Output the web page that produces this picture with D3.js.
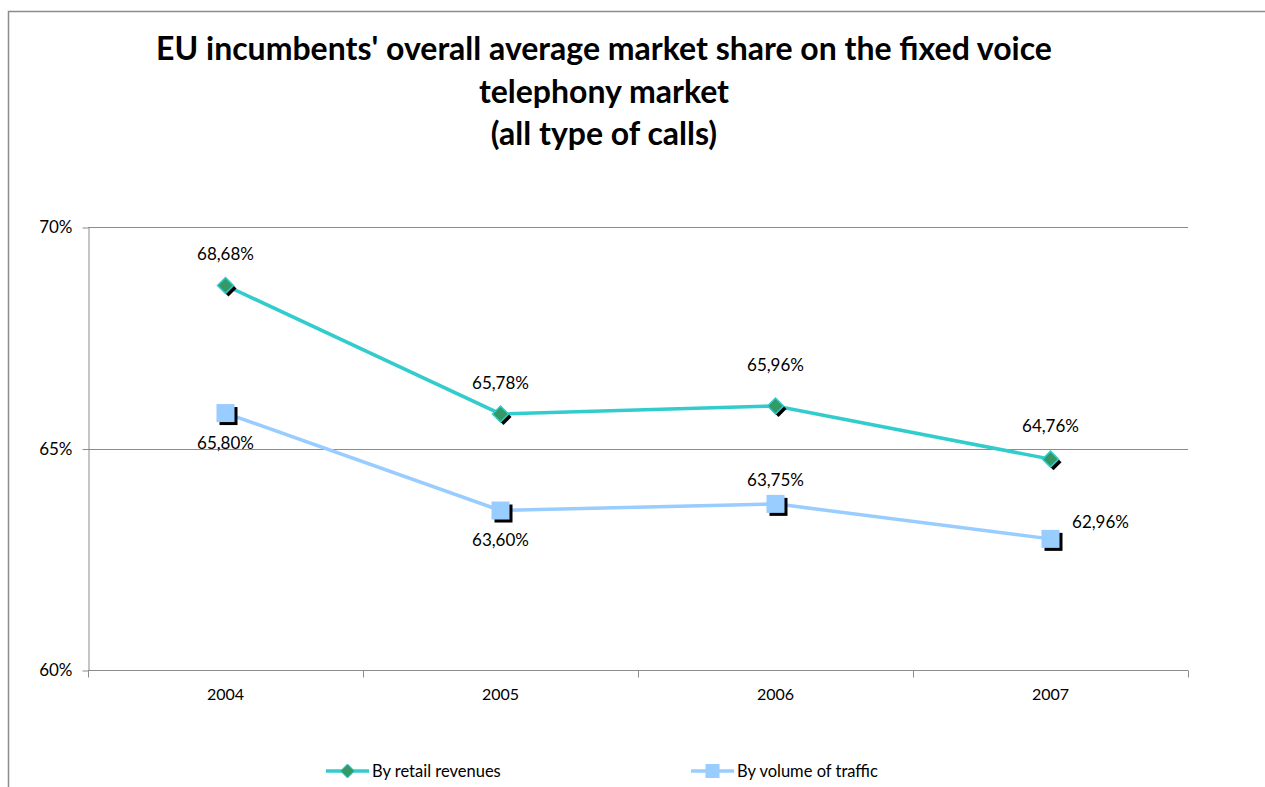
<!DOCTYPE html>
<html>
<head>
<meta charset="utf-8">
<script src="https://cdn.jsdelivr.net/npm/d3@7"></script>
<style>
  html, body { margin: 0; padding: 0; background: #fff; }
  svg { display: block; }
  text { font-family: Lato, "Open Sans", "Liberation Sans", sans-serif; fill: #000; }
</style>
</head>
<body>
<svg id="chart" width="1265" height="787"></svg>
<script>
// Years on the category axis
const years = ["2004", "2005", "2006", "2007"];
// Incumbents' share by retail revenues (%)
const retailRevenues = [68.68, 65.78, 65.96, 64.76];
// Incumbents' share by volume of traffic (%)
const trafficVolume = [65.80, 63.60, 63.75, 62.96];
// Value axis ticks (%)
const yTicks = [60, 65, 70];
const titleLines = [
  "EU incumbents' overall average market share on the fixed voice",
  "telephony market",
  "(all type of calls)"
];

const svg = d3.select("#chart");
const W = 1265, H = 787;
const plot = { left: 88, right: 1188, top: 227, bottom: 670 };

// outer chart frame
svg.append("path")
  .attr("d", `M8.5,${H} V11.5 H${W}`)
  .attr("fill", "none").attr("stroke", "#8c8c8c").attr("stroke-width", 1.5);

// title
const title = svg.append("text")
  .attr("text-anchor", "middle")
  .attr("font-weight", "bold")
  .attr("font-size", 32);
titleLines.forEach((t, i) => {
  title.append("tspan").attr("x", 604).attr("y", 60 + i * 42.5).text(t);
});

const x = d3.scaleBand().domain(years).range([plot.left, plot.right]);
const y = d3.scaleLinear().domain([60, 70]).range([plot.bottom, plot.top]);

// horizontal gridlines
svg.append("g").selectAll("line").data(yTicks).join("line")
  .attr("x1", plot.left).attr("x2", plot.right)
  .attr("y1", d => Math.round(y(d)) + 0.5).attr("y2", d => Math.round(y(d)) + 0.5)
  .attr("stroke", "#8c8c8c").attr("stroke-width", 1);

// value axis
const yAxis = svg.append("g")
  .attr("transform", `translate(${plot.left + 0.5},0.5)`)
  .call(d3.axisLeft(y).tickValues(yTicks).tickSize(6).tickSizeOuter(0)
    .tickFormat(d => d + "%"));
yAxis.select(".domain").attr("stroke", "#8c8c8c");
yAxis.selectAll(".tick line").attr("stroke", "#8c8c8c");
yAxis.selectAll(".tick text").attr("font-size", 17).attr("x", -16)
  .style("font-family", "Lato, 'Open Sans', sans-serif").style("fill", "#000");

// category axis with ticks between categories
const xAxisG = svg.append("g").attr("transform", `translate(0,${plot.bottom + 0.5})`);
xAxisG.append("line").attr("x1", plot.left).attr("x2", plot.right)
  .attr("stroke", "#8c8c8c");
const boundaries = years.map(d => x(d)).concat([plot.right]);
xAxisG.selectAll("line.tk").data(boundaries).join("line").attr("class", "tk")
  .attr("x1", d => Math.round(d) + 0.5).attr("x2", d => Math.round(d) + 0.5)
  .attr("y1", 0).attr("y2", 7).attr("stroke", "#8c8c8c");
xAxisG.selectAll("text").data(years).join("text")
  .attr("x", d => x(d) + x.bandwidth() / 2).attr("y", 29)
  .attr("text-anchor", "middle").attr("font-size", 16).text(d => d);

const cx = d => x(d) + x.bandwidth() / 2;
const lineGen = d3.line().x(d => cx(d[0])).y(d => y(d[1]));
const fmt = v => v.toFixed(2).replace(".", ",") + "%";

const series = [
  { name: "By retail revenues", values: retailRevenues, color: "#33cccc", fill: "#339966", shape: "diamond",
    labels: [[0, -25], [0, -25], [0, -35], [0, -27]] },
  { name: "By volume of traffic", values: trafficVolume, color: "#99ccff", fill: "#99ccff", shape: "square",
    labels: [[0, 36], [0, 35], [0, -18], [50, -11]] }
];

function drawMarker(g, shape, px, py, fill, stroke, s) {
  if (shape === "diamond") {
    const d = `M${px},${py - s} L${px + s},${py} L${px},${py + s} L${px - s},${py} Z`;
    g.append("path").attr("d", d).attr("transform", "translate(3,3)").attr("fill", "#000");
    g.append("path").attr("d", d).attr("fill", fill).attr("stroke", stroke).attr("stroke-width", 1.5);
  } else {
    g.append("rect").attr("x", px - s + 3).attr("y", py - s + 3).attr("width", 2 * s).attr("height", 2 * s).attr("fill", "#000");
    g.append("rect").attr("x", px - s).attr("y", py - s).attr("width", 2 * s).attr("height", 2 * s).attr("fill", fill);
  }
}

series.forEach(s => {
  const pts = years.map((yr, i) => [yr, s.values[i]]);
  svg.append("path").datum(pts).attr("d", lineGen)
    .attr("fill", "none").attr("stroke", s.color).attr("stroke-width", 3.5);
  const mg = svg.append("g");
  pts.forEach(p => drawMarker(mg, s.shape, cx(p[0]), y(p[1]), s.fill, s.color, s.shape === "diamond" ? 8 : 9));
  svg.append("g").selectAll("text").data(pts).join("text")
    .attr("x", (d, i) => cx(d[0]) + s.labels[i][0])
    .attr("y", (d, i) => y(d[1]) + s.labels[i][1])
    .attr("text-anchor", "middle").attr("font-size", 17)
    .text(d => fmt(d[1]));
});

// legend
const legend = svg.append("g").attr("transform", "translate(0,771)");
const legendX = [326, 691];
series.forEach((s, i) => {
  const g = legend.append("g").attr("transform", `translate(${legendX[i]},0)`);
  g.append("line").attr("x1", 0).attr("x2", 43).attr("stroke", s.color).attr("stroke-width", 3.5);
  drawLegendMarker(g, s);
  g.append("text").attr("x", 46).attr("y", 6).attr("font-size", 16.5).text(s.name);
});
function drawLegendMarker(g, s) {
  if (s.shape === "diamond") {
    g.append("path").attr("d", "M21.5,-7 L28.5,0 L21.5,7 L14.5,0 Z").attr("fill", s.fill).attr("stroke", s.color);
  } else {
    g.append("rect").attr("x", 14.5).attr("y", -7).attr("width", 14).attr("height", 14).attr("fill", s.fill);
  }
}
</script>
</body>
</html>
